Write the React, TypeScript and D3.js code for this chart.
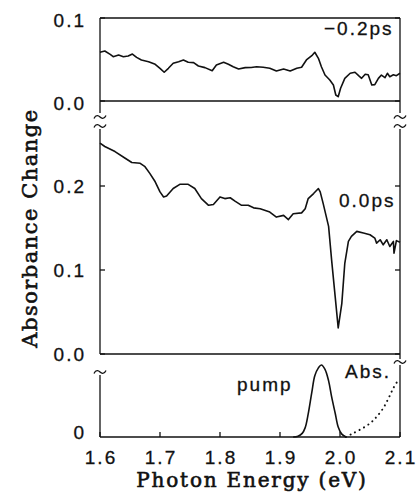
import React from "react";
import * as d3 from "d3";

const xTicks = [1.6, 1.7, 1.8, 1.9, 2.0, 2.1];
const topTicks = [0.0, 0.1];
const midTicks = [0.0, 0.1, 0.2];
const botTicks = [0];

const topE = [1.600,1.608,1.617,1.622,1.631,1.639,1.647,1.654,1.661,1.669,1.681,1.692,1.700,1.707,1.714,1.722,1.731,1.739,1.747,1.756,1.764,1.775,1.787,1.794,1.806,1.814,1.822,1.831,1.842,1.852,1.861,1.872,1.883,1.894,1.906,1.917,1.928,1.936,1.944,1.953,1.958,1.964,1.969,1.975,1.983,1.989,1.993,1.997,2.001,2.008,2.017,2.025,2.031,2.036,2.042,2.047,2.053,2.058,2.064,2.069,2.075,2.079,2.083,2.089,2.094,2.100];
const topV = [0.0587,0.0602,0.0562,0.0534,0.0554,0.0534,0.0542,0.0566,0.0526,0.0494,0.0474,0.0442,0.0394,0.0346,0.0394,0.0454,0.0474,0.0494,0.0466,0.0462,0.0422,0.0402,0.0365,0.0434,0.0466,0.0442,0.0413,0.0386,0.0402,0.0404,0.0413,0.0406,0.0394,0.0361,0.0386,0.0361,0.0394,0.0406,0.0494,0.0546,0.0587,0.0514,0.0413,0.0313,0.0253,0.0193,0.0072,0.0052,0.0153,0.0273,0.0334,0.0346,0.0305,0.0273,0.0322,0.0317,0.0193,0.0197,0.0273,0.0313,0.0281,0.0334,0.0293,0.0317,0.0305,0.0334];

const midE = [1.600,1.608,1.625,1.642,1.653,1.667,1.675,1.683,1.692,1.700,1.706,1.711,1.722,1.733,1.747,1.758,1.769,1.781,1.789,1.800,1.808,1.817,1.825,1.836,1.847,1.856,1.867,1.883,1.894,1.906,1.914,1.922,1.936,1.942,1.947,1.956,1.964,1.967,1.972,1.981,1.986,1.992,1.997,2.003,2.008,2.014,2.019,2.028,2.039,2.050,2.058,2.061,2.067,2.072,2.078,2.083,2.089,2.090,2.094,2.100];
const midV = [0.251,0.247,0.241,0.233,0.228,0.227,0.223,0.215,0.205,0.193,0.187,0.188,0.197,0.202,0.202,0.197,0.185,0.177,0.178,0.187,0.185,0.186,0.182,0.177,0.177,0.174,0.173,0.169,0.163,0.165,0.160,0.167,0.168,0.173,0.185,0.191,0.197,0.193,0.179,0.152,0.112,0.068,0.031,0.060,0.108,0.134,0.140,0.146,0.144,0.142,0.138,0.132,0.136,0.130,0.136,0.128,0.134,0.120,0.135,0.133];

const pumpE = [1.922,1.930,1.937,1.942,1.947,1.953,1.958,1.964,1.969,1.975,1.981,1.986,1.992,1.997,2.003,2.010];
const pumpV = [0,0.01,0.05,0.13,0.32,0.62,0.85,0.96,1.0,0.94,0.78,0.56,0.33,0.14,0.04,0.0];

const absE = [2.010,2.019,2.033,2.050,2.061,2.072,2.081,2.089,2.097];
const absV = [0.0,0.04,0.10,0.19,0.28,0.40,0.54,0.68,0.79];

const W = 416, H = 492;
const L = 100, R = 400;

const x = d3.scaleLinear().domain([1.6, 2.1]).range([L, R]);
const yTop = d3.scaleLinear().domain([0, 0.1]).range([101, 18]);
const yMid = d3.scaleLinear().domain([0, 0.2]).range([354, 186]);
const yBot = d3.scaleLinear().domain([0, 1]).range([437, 365]);

const tickFont = "'Liberation Sans', Arial, sans-serif";
const titleFont = "'DejaVu Serif', serif";

function tilde(cx: number, cy: number) {
  return `M${cx - 6},${cy + 1.5} C${cx - 4},${cy - 3} ${cx - 1},${cy - 1} ${cx},${cy} C${cx + 1},${cy + 1} ${cx + 4},${cy + 3} ${cx + 6},${cy - 1.5}`;
}

export default function App() {
  const mkLine = (ys: d3.ScaleLinear<number, number>) =>
    d3.line<[number, number]>().x((d) => x(d[0])).y((d) => ys(d[1])).curve(d3.curveLinear);
  const topPath = mkLine(yTop)(topE.map((e, i) => [e, topV[i]]))!;
  const midPath = mkLine(yMid)(midE.map((e, i) => [e, midV[i]]))!;
  const pumpPath = mkLine(yBot).curve(d3.curveCatmullRom)(pumpE.map((e, i) => [e, pumpV[i]]))!;
  const absPath = mkLine(yBot).curve(d3.curveCatmullRom)(absE.map((e, i) => [e, absV[i]]))!;

  const stroke = "#111";
  const tk = 5;

  return (
    <svg width={W} height={H} style={{ position: "absolute", left: 0, top: 0, background: "#fff" }}>
      <rect x={0} y={0} width={W} height={H} fill="#fff" />
      <g stroke={stroke} strokeWidth={1.3} fill="none">
        <line x1={L} x2={R} y1={yTop(0.1)} y2={yTop(0.1)} />
        <line x1={L} x2={R} y1={yTop(0)} y2={yTop(0)} />
        <line x1={L} x2={L} y1={yTop(0.1)} y2={113} />
        <line x1={R} x2={R} y1={yTop(0.1)} y2={113} />
        <path d={tilde(L, 117)} />
        <path d={tilde(R, 117)} />
        {topTicks.map((t) => (
          <g key={"tt" + t}>
            <line x1={L} x2={L + tk} y1={yTop(t)} y2={yTop(t)} />
            <line x1={R} x2={R - tk} y1={yTop(t)} y2={yTop(t)} />
          </g>
        ))}
        <path d={tilde(L, 126)} />
        <path d={tilde(R, 126)} />
        <line x1={L} x2={L} y1={129} y2={yMid(0)} />
        <line x1={R} x2={R} y1={129} y2={yMid(0)} />
        <line x1={L} x2={R} y1={yMid(0)} y2={yMid(0)} />
        {midTicks.map((t) => (
          <g key={"mt" + t}>
            <line x1={L} x2={L + tk} y1={yMid(t)} y2={yMid(t)} />
            <line x1={R} x2={R - tk} y1={yMid(t)} y2={yMid(t)} />
          </g>
        ))}
        <path d={tilde(L, 372)} />
        <line x1={R} x2={R} y1={yMid(0)} y2={359} />
        <path d={tilde(R, 362)} />
        <line x1={L} x2={L} y1={375} y2={yBot(0)} />
        <line x1={R} x2={R} y1={365} y2={yBot(0)} />
        <line x1={L} x2={R} y1={yBot(0)} y2={yBot(0)} />
        {xTicks.map((t) => (
          <line key={"xt" + t} x1={x(t)} x2={x(t)} y1={yBot(0)} y2={yBot(0) - tk} />
        ))}
      </g>

      <path d={topPath} fill="none" stroke={stroke} strokeWidth={1.6} strokeLinejoin="round" />
      <path d={midPath} fill="none" stroke={stroke} strokeWidth={1.6} strokeLinejoin="round" />
      <path d={pumpPath} fill="none" stroke={stroke} strokeWidth={1.6} />
      <path d={absPath} fill="none" stroke={stroke} strokeWidth={2} strokeDasharray="0.1 5" strokeLinecap="round" />

      <g fontFamily={tickFont} fontSize={19} fill="#111" letterSpacing={2} stroke="#111" strokeWidth={0.3}>
        {topTicks.map((t) => (
          <text key={"tl" + t} x={86} y={yTop(t) + 9} textAnchor="end">{t.toFixed(1)}</text>
        ))}
        {midTicks.map((t) => (
          <text key={"ml" + t} x={86} y={yMid(t) + 7} textAnchor="end">{t.toFixed(1)}</text>
        ))}
        {botTicks.map((t) => (
          <text key={"bl" + t} x={86} y={yBot(t) + 2} textAnchor="end">{String(t)}</text>
        ))}
        {xTicks.map((t) => (
          <text key={"xl" + t} x={x(t) + 1} y={464} textAnchor="middle">{t.toFixed(1)}</text>
        ))}
        <text x={324} y={35}>−0.2ps</text>
        <text x={339} y={207}>0.0ps</text>
        <text x={237} y={391}>pump</text>
        <text x={345} y={378}>Abs.</text>
      </g>

      <text x={252} y={487} textAnchor="middle" fontFamily={titleFont} fontSize={20} letterSpacing={1.8} fill="#111" stroke="#111" strokeWidth={0.6}>
        Photon Energy (eV)
      </text>
      <text transform="translate(37,228) rotate(-90)" textAnchor="middle" fontFamily={titleFont} fontSize={21} letterSpacing={1.5} fill="#111" stroke="#111" strokeWidth={0.6}>
        Absorbance Change
      </text>
    </svg>
  );
}
